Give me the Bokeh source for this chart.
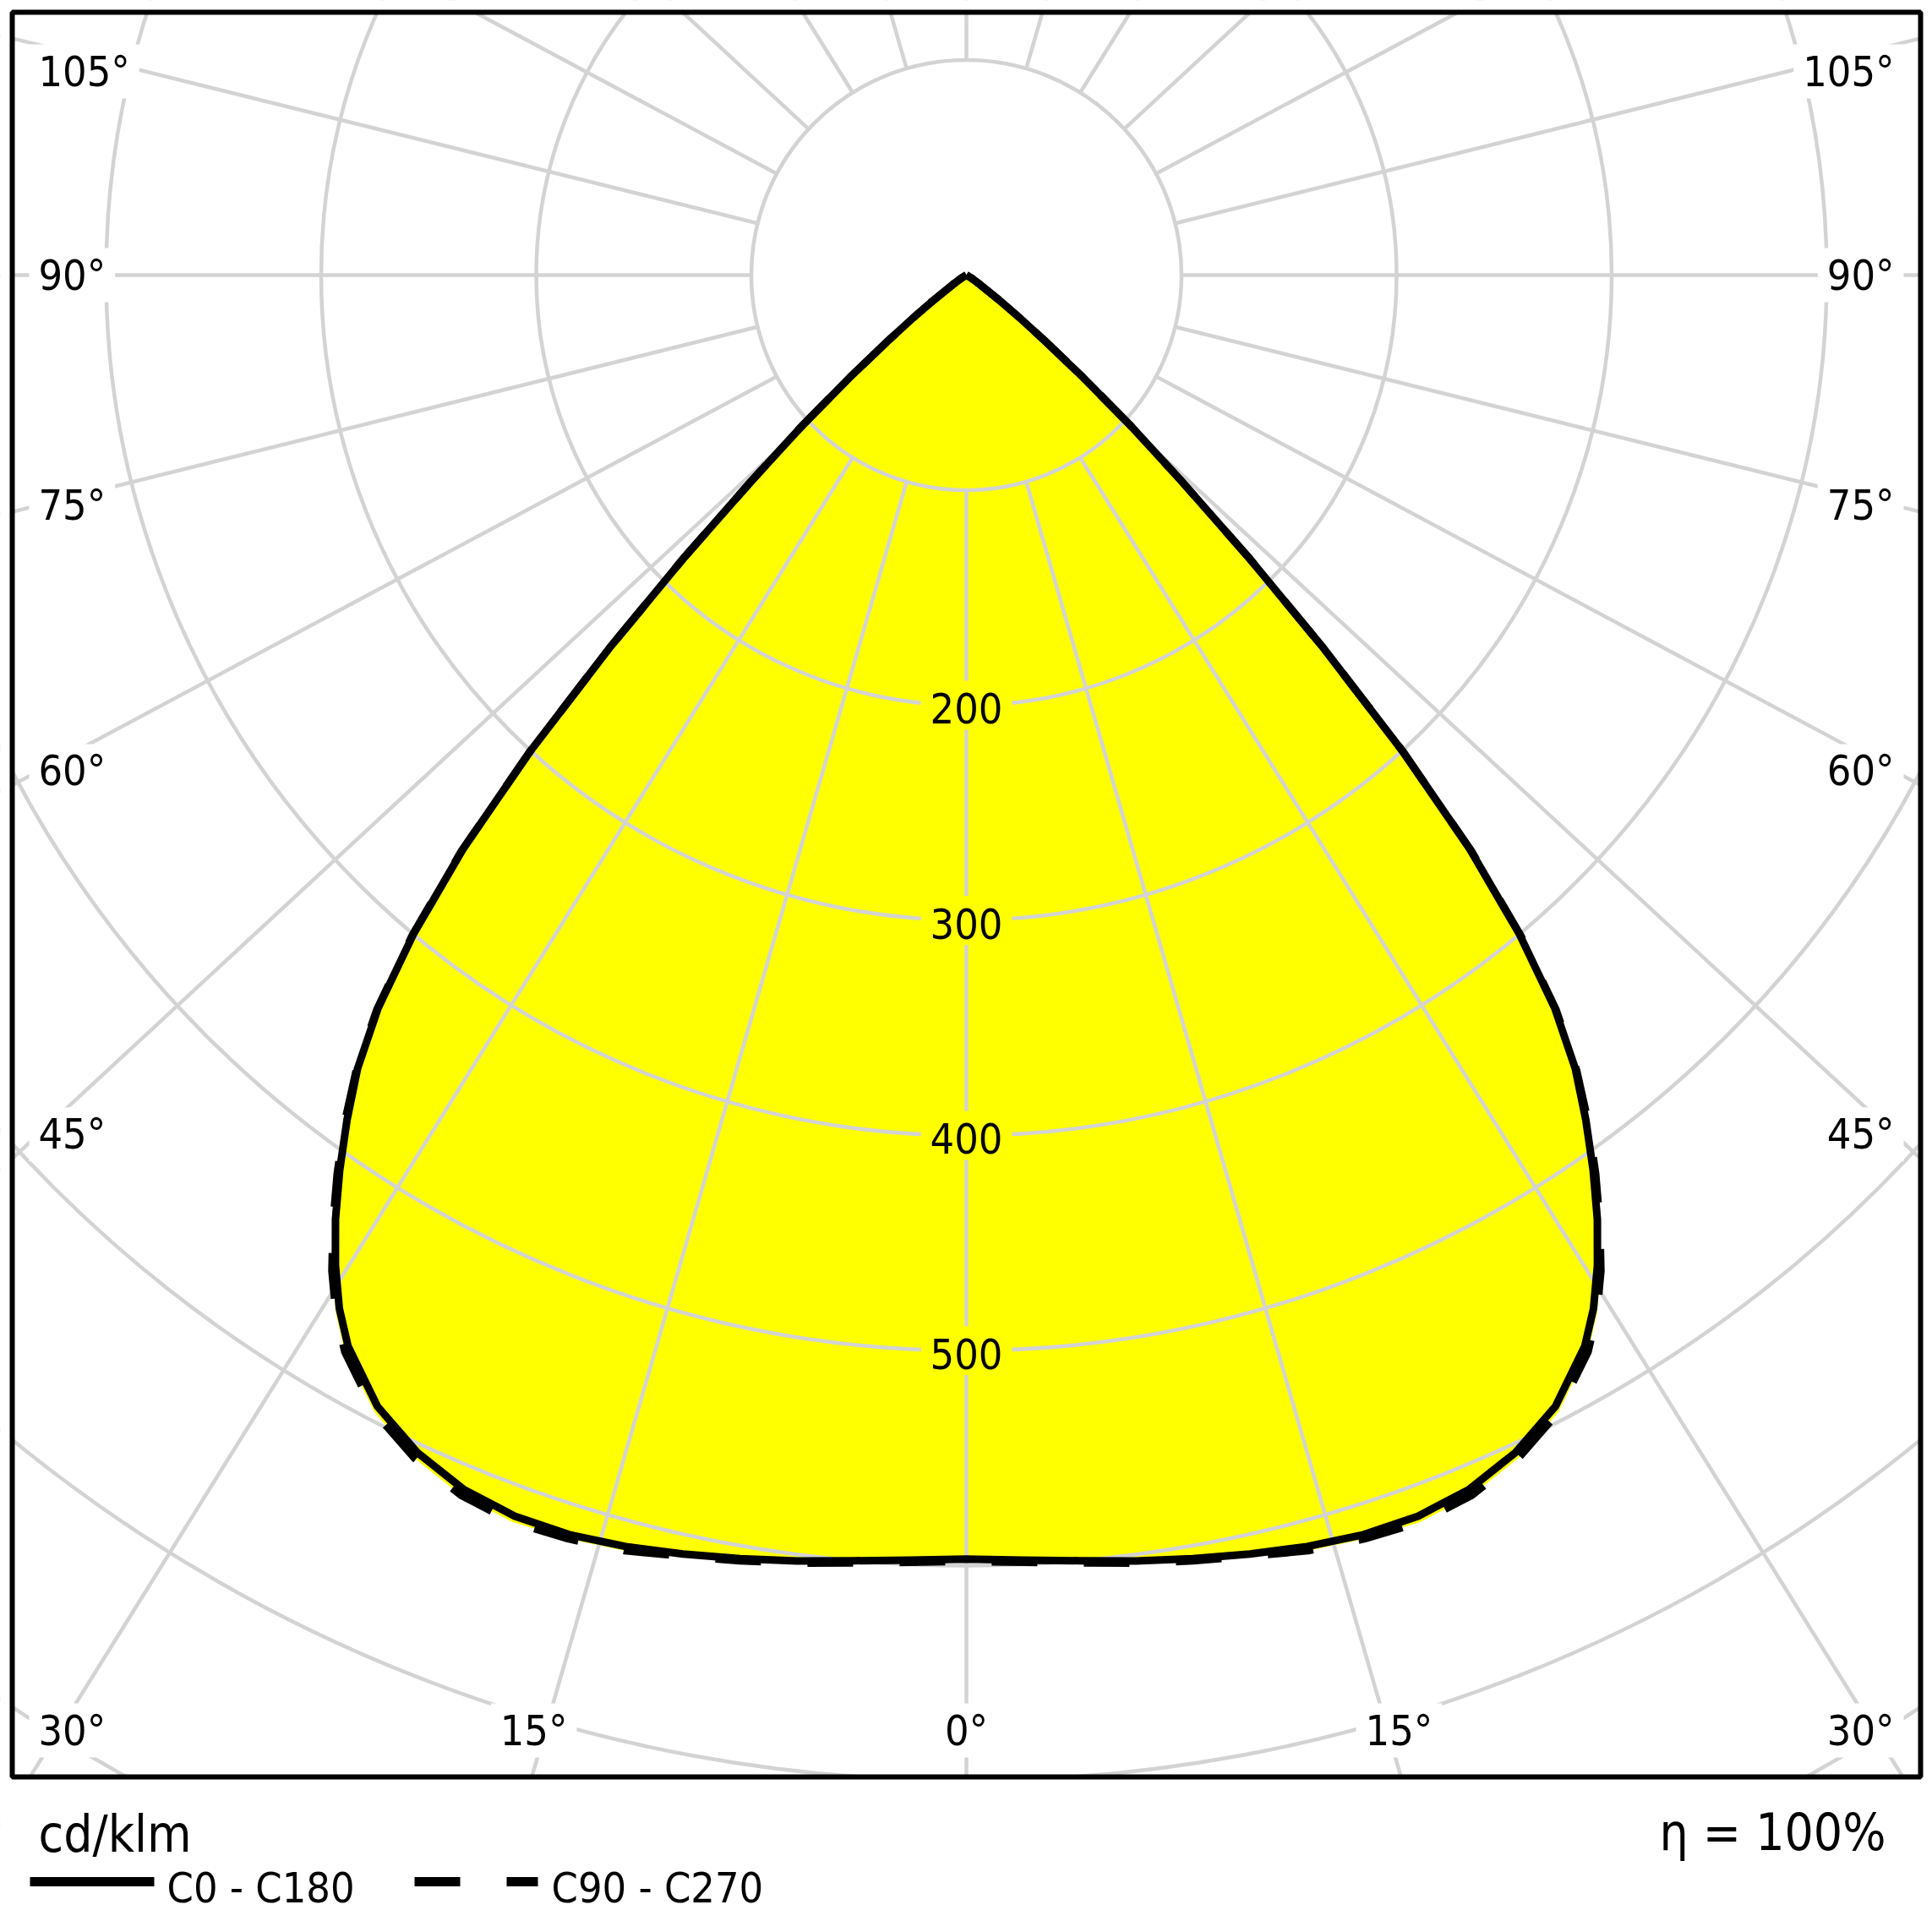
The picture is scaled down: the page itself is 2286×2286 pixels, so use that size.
import numpy as np
from bokeh.plotting import figure
from bokeh.models import Range1d
from bokeh.core.properties import value
from bokeh.embed import file_html
from bokeh.resources import INLINE

# ---------------- data (cd/klm) ----------------
gamma = [0, 2.5, 5, 7.5, 10, 12.5, 15, 17.5, 20, 22.5, 25, 27.5, 30, 31.25, 32.5,
         33.75, 35, 36.25, 37.5, 38.75, 40, 41.25, 42.5, 43.75, 45, 46.25, 47.5,
         48.75, 50, 51.25, 52.5, 55, 57.5, 60, 65, 70, 75, 80, 85, 90]
c0_c180 = [597, 598, 600, 603, 606, 609, 612, 614, 614, 611, 604, 593, 575, 562, 546,
           528, 508, 487, 465, 437, 400, 355, 300, 240, 185, 138, 103,
           72, 48, 32, 20, 8, 4, 2, 0, 0, 0, 0, 0, 0]
c90_c270 = [598, 599, 601, 604, 607, 610, 614, 616, 617, 614, 607, 596, 578, 565, 549,
            530, 510, 489, 466, 438, 401, 356, 300, 240, 185, 138, 103,
            72, 48, 32, 20, 8, 4, 2, 0, 0, 0, 0, 0, 0]
ring_values = [100, 200, 300, 400, 500, 600, 700, 800]
ring_label_values = [200, 300, 400, 500]
angle_labels = [0, 15, 30, 45, 60, 75, 90, 105]
ray_angles = [0, 15, 30, 45, 60, 75, 90, 105, 120, 135, 150, 165, 180,
              195, 210, 225, 240, 255, 270, 285, 300, 315, 330, 345]
unit_text = "cd/klm"
eta_text = "η = 100%"
legend_names = ["C0 - C180", "C90 - C270"]

# ---------------- layout constants ----------------
W = 2286
PX = 2.545                 # pixels per cd/klm
CX, CY = 1143, 325         # diagram centre (page px)
FL, FT, FR, FB = 14, 14, 2272, 2102   # frame
FONT = "DejaVu Sans Condensed"
GRID = "#d3d3d3"
YELLOW = "#ffff00"
K = 1.08                   # horizontal stretch of the radial grid lines
LBL_FS = 50
CURVE_W = 9
GRID_W = 4.5


def px2x(px):
    return (px - CX) / PX


def px2y(py):
    return (CY - py) / PX


def text_w(s, fs):
    w = 0.0
    for ch in s:
        w += 0.45 if ch == "°" else 0.572
    return w * fs


p = figure(width=W, height=W, output_backend="svg", toolbar_location=None,
           x_axis_type=None, y_axis_type=None,
           x_range=Range1d(px2x(0), px2x(W)), y_range=Range1d(px2y(W), px2y(0)),
           min_border_left=0, min_border_right=0, min_border_top=0,
           min_border_bottom=0)
p.outline_line_color = None
p.background_fill_color = "white"
p.border_fill_color = "white"

g = np.radians(np.array(gamma, dtype=float))


def outline(vals):
    v = np.array(vals, dtype=float)
    xl = -(v * np.sin(g))[::-1]
    yl = -(v * np.cos(g))[::-1]
    xr = v * np.sin(g)
    yr = -v * np.cos(g)
    return list(np.concatenate([xl, xr[1:]])), list(np.concatenate([yl, yr[1:]]))


xa, ya = outline(c0_c180)
xb, yb = outline(c90_c270)

# fill
p.patch(xb, yb, fill_color=YELLOW, line_color=None)
p.patch(xa, ya, fill_color=YELLOW, line_color=None)

# rings
p.circle(x=[0] * len(ring_values), y=[0] * len(ring_values), radius=ring_values,
         fill_color=None, line_color=GRID, line_width=GRID_W)

# rays
rxs, rys = [], []
r0 = ring_values[0]
for a in ray_angles:
    t = np.radians(a)
    dx, dy = K * np.sin(t), -np.cos(t)
    n = np.hypot(dx, dy)
    dx, dy = dx / n, dy / n
    rxs.append([r0 * dx, 2000 * dx])
    rys.append([r0 * dy, 2000 * dy])
p.multi_line(rxs, rys, line_color=GRID, line_width=GRID_W)

# mask outside the frame, then the frame itself
BIG = 3 * W
p.quad(left=[px2x(-BIG), px2x(FR), px2x(-BIG), px2x(-BIG)],
       right=[px2x(FL), px2x(BIG), px2x(BIG), px2x(BIG)],
       top=[px2y(-BIG), px2y(-BIG), px2y(-BIG), px2y(FB)],
       bottom=[px2y(BIG), px2y(BIG), px2y(FT), px2y(BIG)],
       fill_color="white", line_color=None)
p.quad(left=[px2x(FL)], right=[px2x(FR)], top=[px2y(FT)], bottom=[px2y(FB)],
       fill_color=None, line_color="black", line_width=6)

# angle label positions (ray meets an inset rectangle)
L_EDGE, R_EDGE, B_EDGE = 45, 2241, 2094
LBL_TOP, LBL_BOT = 84, 2047
groups = {"left": [], "right": [], "center": []}
for a in angle_labels:
    t = np.radians(a)
    sides = [0] if a == 0 else [-1, 1]
    for s in sides:
        sx, cy = K * np.sin(t), np.cos(t)
        t_side = (CX - L_EDGE) / sx if sx > 1e-9 else np.inf
        t_bot = (B_EDGE - CY) / cy if cy > 1e-9 else np.inf
        txt = f"{a}°"
        if t_bot < t_side:
            groups["center"].append((CX + s * sx * t_bot, LBL_BOT, txt))
        else:
            py = min(max(CY + cy * t_side, LBL_TOP), LBL_BOT)
            if s < 0:
                groups["left"].append((L_EDGE, py, txt))
            else:
                groups["right"].append((R_EDGE, py, txt))

# label backgrounds
bx, by, bw, bh, bc = [], [], [], [], []
for align, items in groups.items():
    for (px, py, txt) in items:
        tw = text_w(txt, LBL_FS)
        cxp = px + tw / 2 if align == "left" else (px - tw / 2 if align == "right" else px)
        bx.append(px2x(cxp)); by.append(px2y(py))
        bw.append((tw + 22) / PX); bh.append(64 / PX); bc.append("white")
for v in ring_label_values:
    tw = text_w(str(v), LBL_FS)
    bx.append(0); by.append(-v)
    bw.append((tw + 22) / PX); bh.append(58 / PX); bc.append(YELLOW)
p.rect(x=bx, y=by, width=bw, height=bh, fill_color=bc, line_color=None)

# curves
p.line(xb, yb, line_color="black", line_width=CURVE_W, line_dash="54 55", line_join="round")
p.line(xa, ya, line_color="black", line_width=CURVE_W, line_join="round")

# texts
for align, items in groups.items():
    if not items:
        continue
    p.text(x=[px2x(i[0]) for i in items], y=[px2y(i[1]) for i in items],
           text=[i[2] for i in items], text_font=value(FONT), text_font_size=f"{LBL_FS}px",
           text_align=align, text_baseline="middle", text_color="black")
p.text(x=[0] * len(ring_label_values), y=[-v - 1.5 for v in ring_label_values],
       text=[str(v) for v in ring_label_values], text_font=value(FONT),
       text_font_size=f"{LBL_FS}px", text_align="center", text_baseline="middle",
       text_color="black")

# ---------------- legend strip (below the frame) ----------------
p.text(x=[px2x(45)], y=[px2y(2169)], text=[unit_text], text_font=value(FONT),
       text_font_size="60px", text_align="left", text_baseline="middle", text_color="black")
p.text(x=[px2x(2231)], y=[px2y(2167)], text=[eta_text], text_font=value(FONT),
       text_font_size="60px", text_align="right", text_baseline="middle", text_color="black")
p.line([px2x(35), px2x(182)], [px2y(2226), px2y(2226)], line_color="black", line_width=11)
p.line([px2x(490), px2x(636)], [px2y(2226), px2y(2226)], line_color="black",
       line_width=11, line_dash="54 55")
p.text(x=[px2x(197), px2x(652)], y=[px2y(2233), px2y(2233)], text=legend_names,
       text_font=value(FONT), text_font_size="50px", text_align="left",
       text_baseline="middle", text_color="black")

open("out.html", "w").write(file_html(p, INLINE))
